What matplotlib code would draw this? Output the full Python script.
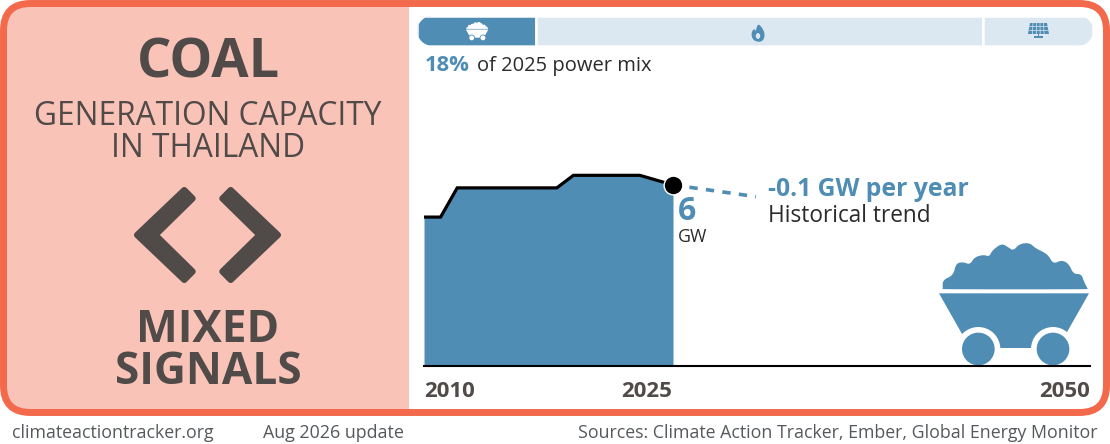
import numpy as np
import matplotlib
matplotlib.use("Agg")
import matplotlib.pyplot as plt
from matplotlib.patches import FancyBboxPatch, Polygon, Circle, Rectangle
from matplotlib.transforms import ScaledTranslation

plt.rcParams['font.family'] = ['Open Sans', 'DejaVu Sans']

years = [2010, 2011, 2012, 2018, 2019, 2023, 2025]
capacity = [5.1, 5.1, 6.1, 6.1, 6.53, 6.53, 6.2]
trend_years = [2025, 2030]
trend_values = [6.2, 5.8]
tick_years = [2010, 2025, 2050]
mix_shares = [17.6, 66.1, 16.3]

BLUE = "#4F8DB5"
LIGHT = "#DCE8F1"
ORANGE = "#F3694B"
PINK = "#FAC3B8"
DARK = "#504A48"
INK = "#2B2B2B"
GREY = "#55595C"

fig = plt.figure(figsize=(11.1, 4.44), dpi=100)
W, H = 1110, 444


def pixel_axes():
    # axes over the whole figure, in image pixels
    a = fig.add_axes([0, 0, 1, 1])
    a.set_xlim(0, W)
    a.set_ylim(H, 0)
    a.axis("off")
    a.patch.set_alpha(0)
    return a


bg = pixel_axes()

card = FancyBboxPatch((3.5, 3.5), 1103, 409, boxstyle="round,pad=0,rounding_size=27",
                      fc="white", ec="none", zorder=1)
bg.add_patch(card)
panel = Rectangle((0, 0), 409, 420, fc=PINK, ec="none", zorder=2)
bg.add_patch(panel)
panel.set_clip_path(card)
bg.add_patch(FancyBboxPatch((3.5, 3.5), 1103, 409, boxstyle="round,pad=0,rounding_size=27",
                            fc="none", ec=ORANGE, lw=5, zorder=3))


def chevron(mirror=False):
    pts = np.array([(137, 235), (184.3, 190), (192.7, 198.5), (155.5, 235),
                    (192.7, 271.5), (184.3, 280)], float)
    if mirror:
        pts[:, 0] = 415 - pts[:, 0]
    bg.add_patch(Polygon(pts, closed=True, fc=DARK, ec=DARK, lw=4.4, joinstyle="round", zorder=4))


chevron()
chevron(True)


def smooth(pts, n=2):
    # corner cutting so the coal heap looks lumpy, not jagged
    pts = np.asarray(pts, float)
    for _ in range(n):
        nxt = np.roll(pts, -1, axis=0)
        pts = np.column_stack([0.75 * pts + 0.25 * nxt, 0.25 * pts + 0.75 * nxt]).reshape(-1, 2)
    return pts


heap = [(68, 176), (68, 150), (100, 136), (108, 100), (130, 96), (150, 104), (163, 82), (190, 74),
        (208, 80), (216, 62), (245, 40), (265, 52), (280, 62), (298, 42), (328, 38), (347, 55),
        (370, 66), (385, 76), (400, 102), (425, 90), (447, 102), (460, 132), (484, 132), (492, 155),
        (503, 176), (503, 178), (68, 178)]
tub = [(57, 190), (507, 190), (414, 354), (150, 354)]


def cart(target, x0, y0, s, color, back, zorder=5):
    # drawn in the units of the zoomed crop, then scaled
    f = lambda p: np.asarray(p, float) * s + (x0, y0)
    target.add_patch(Polygon(f(smooth(heap)), fc=color, ec="none", zorder=zorder))
    target.add_patch(Polygon(f(tub), fc=color, ec="none", zorder=zorder))
    for cx in (175, 399):
        c = f((cx, 357))
        target.add_patch(Circle(c, 66 * s, fc=back, ec="none", zorder=zorder + 1))
        target.add_patch(Circle(c, 49 * s, fc=color, ec="none", zorder=zorder + 2))


cart(bg, 920, 230, 1 / 3, BLUE, "white")

# power mix strip
mix = fig.add_axes([417.3 / W, 1 - 45.7 / H, 676 / W, 29.7 / H])
mix.set_xlim(0, 100)
mix.set_ylim(0, 1)
mix.axis("off")
left = 0
bars = []
for share, col in zip(mix_shares, [BLUE, LIGHT, LIGHT]):
    bars.append(mix.barh(0.5, share, left=left, height=1, color=col, edgecolor="white", linewidth=1.8)[0])
    left += share
# stadium outline in pixels for the rounded ends
r, yc = 14.85, 30.85
t = np.linspace(-np.pi / 2, np.pi / 2, 40)
arc_r = np.column_stack([1093.3 - r + r * np.cos(t), yc + r * np.sin(t)])
arc_l = np.column_stack([417.3 + r - r * np.cos(t[::-1]), yc + r * np.sin(t[::-1])])
stadium = Polygon(np.vstack([arc_r, arc_l]), closed=True, transform=bg.transData, fc="none", ec="none")
for b in bars:
    b.set_clip_path(stadium)

# small icons on the strip, above the strip axes
top = pixel_axes()
cart(top, 463, 20, 0.05, "white", BLUE, zorder=6)
flame = [(758, 23), (763, 29), (765, 35), (763, 41), (758, 42), (753, 40), (751, 34), (754, 28), (755.5, 32)]
top.add_patch(Polygon(smooth(flame), fc=BLUE, ec="none", zorder=6))
top.add_patch(Polygon(smooth([(758, 32), (761, 36), (758, 40), (755, 36)]), fc=LIGHT, ec="none", zorder=7))
top.add_patch(Polygon([(1030, 23), (1047, 23), (1049, 34), (1028, 34)], fc=BLUE, ec="none", zorder=6))
for xv in np.arange(1033, 1046, 3.5):
    top.plot([xv, xv + (xv - 1038.5) * 0.12], [23, 34], color=LIGHT, lw=0.5, zorder=7)
for yv in (26.5, 30):
    top.plot([1029, 1048], [yv, yv], color=LIGHT, lw=0.5, zorder=7)
top.add_patch(Rectangle((1037.8, 34), 1.6, 3, fc=BLUE, ec="none", zorder=6))
top.add_patch(Rectangle((1034, 36.5), 9, 1.3, fc=BLUE, ec="none", zorder=6))

# capacity chart, y scale about 29.2 px per GW
y0_px, top_px = 366, 100
ax = fig.add_axes([424 / W, 1 - y0_px / H, 666 / W, (y0_px - top_px) / H])
ax.patch.set_alpha(0)
ax.set_xlim(2010, 2050.12)
ax.set_ylim(0, (y0_px - top_px) / 29.2)
ax.fill_between(years, 0, capacity, color=BLUE, lw=0, zorder=2)
ax.plot(years, capacity, color="black", lw=2.3, solid_joinstyle="miter", solid_capstyle="butt", zorder=3)
ax.plot(trend_years, trend_values, color=BLUE, lw=2.6, dashes=(2.3, 2.3), zorder=2)
ax.plot(years[-1], capacity[-1], "o", ms=13.5, mfc="black", mec="white", mew=1, zorder=4)
for s in ("top", "left", "right"):
    ax.spines[s].set_visible(False)
ax.spines["bottom"].set_linewidth(1.5)
ax.spines["bottom"].set_zorder(5)
ax.set_yticks([])
ax.set_xticks(tick_years)
ax.set_xticklabels([str(t) for t in tick_years], fontsize=16, fontweight="bold", color=DARK)
ax.tick_params(axis="x", length=0, pad=11)
for lab, ha, dx in zip(ax.get_xticklabels(), ["left", "right", "right"], [0, -1, 2]):
    lab.set_ha(ha)
    lab.set_transform(lab.get_transform() + ScaledTranslation(dx / 100, 0, fig.dpi_scale_trans))


def label(x, y, s, size, color=INK, weight="normal", ha="left", spacing=1.2):
    top.text(x, y, s, fontsize=size, color=color, fontweight=weight, ha=ha, va="baseline",
             linespacing=spacing, zorder=8)


label(208, 78, "COAL", 39, DARK, "bold", "center")
label(208, 157, "GENERATION CAPACITY\nIN THAILAND", 22.8, DARK, ha="center", spacing=0.975)
label(208, 384, "MIXED\nSIGNALS", 31.8, DARK, "bold", "center", spacing=0.923)

label(425, 71, "18%", 15.8, BLUE, "bold")
label(477, 71, "of 2025 power mix", 14.5)
label(678, 220, "6", 23, BLUE, "bold")
label(678, 242, "GW", 12.8)
label(768, 196, "-0.1 GW per year", 17.8, BLUE, "bold")
label(768, 222, "Historical trend", 16.3)

label(12, 438, "climateactiontracker.org", 12.8, GREY)
label(263, 438, "Aug 2026 update", 12.9, GREY)
label(1098, 438, "Sources: Climate Action Tracker, Ember, Global Energy Monitor", 12.8, GREY, ha="right")

fig.savefig("out.png", dpi=100)
